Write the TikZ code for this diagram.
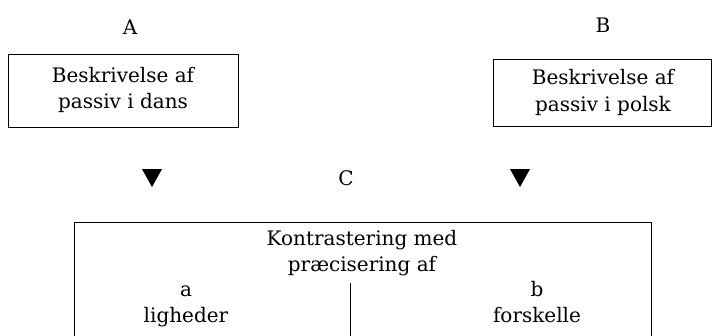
\documentclass[tikz,border=0pt]{standalone}
\usepackage{fontspec}
\setmainfont{DejaVu Serif}
\begin{document}
\begin{tikzpicture}[x=1pt,y=-1pt,
  every node/.style={font=\fontsize{20}{26.5}\selectfont, inner sep=0pt, align=center},
  frame/.style={draw, line width=1pt}]
\useasboundingbox (0,0) rectangle (712,335);
% column labels
\node (la) at (130,27) {A};
\node (lb) at (603,25) {B};
\node (lc) at (346,178) {C};
% the two description boxes
\draw[frame] (8,54) rectangle (238,127);
\node (ta) at (123,90) {\strut Beskrivelse af\\\strut passiv i dans};
\draw[frame] (493,59) rectangle (711.5,126);
\node (tb) at (603,92.5) {\strut Beskrivelse af\\\strut passiv i polsk};
% downward markers
\fill (142,169) -- (162,169) -- (152,187) -- cycle;
\fill (510,169) -- (530,169) -- (520,187) -- cycle;
% contrast box, open at the bottom
\draw[frame] (74,340) -- (74,222) -- (651,222) -- (651,340);
\draw[frame] (350,283) -- (350,340);
\node (tc) at (362,253) {\strut Kontrastering med\\\strut pr\ae cisering af};
\node (tla) at (186,304) {\strut a\\\strut ligheder};
\node (tlb) at (537,304) {\strut b\\\strut forskelle};
\end{tikzpicture}
\end{document}
